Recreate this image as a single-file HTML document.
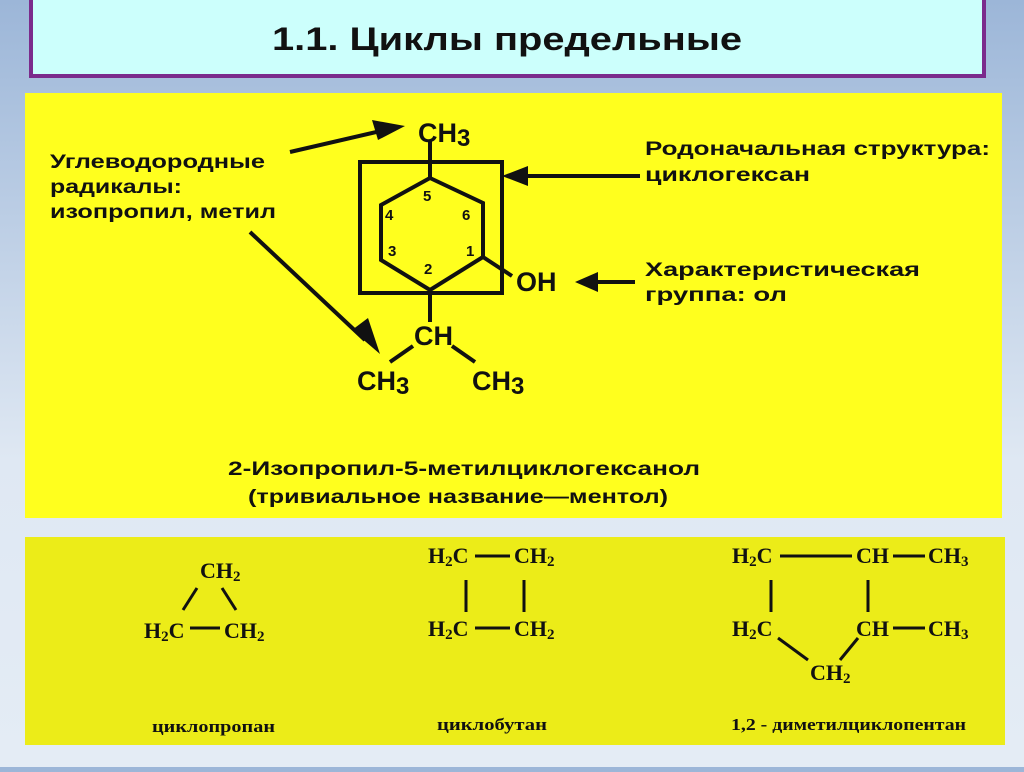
<!DOCTYPE html>
<html><head><meta charset="utf-8"><style>
body{margin:0;width:1024px;height:767px;overflow:hidden;background:linear-gradient(#9cb6d8,#dfe8f3 60%,#e4ecf5);font-family:"Liberation Sans",sans-serif}
</style></head><body>
<svg width="1024" height="767" xmlns="http://www.w3.org/2000/svg">
<rect x="31" y="-4" width="953" height="80" fill="#ccfffc" stroke="#7b2b8c" stroke-width="4"/>
<text x="272" y="50" textLength="470" lengthAdjust="spacingAndGlyphs" font-size="32" font-weight="bold" fill="#111">1.1. Циклы предельные</text>
<rect x="25" y="93" width="977" height="425" fill="#ffff1e"/>
<rect x="25" y="537" width="980" height="208" fill="#ecec18"/>
<g stroke="#111" stroke-width="4" fill="none">
<rect x="360" y="162" width="142" height="131"/>
<polygon points="430,178 483,203 483,257 430,290 381,260 381,205"/>
<line x1="430" y1="178" x2="430" y2="140"/>
<line x1="430" y1="290" x2="430" y2="322"/>
<line x1="483" y1="257" x2="512" y2="276"/>
<line x1="413" y1="346" x2="390" y2="362"/>
<line x1="452" y1="346" x2="475" y2="362"/>
<line x1="290" y1="152" x2="385" y2="130"/>
<line x1="250" y1="232" x2="365" y2="340"/>
<line x1="640" y1="176" x2="520" y2="176"/>
<line x1="635" y1="282" x2="590" y2="282"/>
</g>
<g fill="#111">
<polygon points="405,126 372,120 378,140"/>
<polygon points="380,354 352,330 368,318"/>
<polygon points="502,176 528,166 528,186"/>
<polygon points="575,282 598,272 598,292"/>
</g>
<g font-weight="bold" fill="#111">
<text x="418" y="142" font-size="27">CH<tspan font-size="24" dy="4">3</tspan></text>
<text x="516" y="291" font-size="27">OH</text>
<text x="414" y="345" font-size="27">CH</text>
<text x="357" y="390" font-size="27">CH<tspan font-size="24" dy="4">3</tspan></text>
<text x="472" y="390" font-size="27">CH<tspan font-size="24" dy="4">3</tspan></text>
<g font-size="15"><text x="423" y="201">5</text><text x="385" y="220">4</text><text x="462" y="220">6</text><text x="388" y="256">3</text><text x="466" y="256">1</text><text x="424" y="274">2</text></g>
<g font-size="19" lengthAdjust="spacingAndGlyphs">
<text x="50" y="168" textLength="215" lengthAdjust="spacingAndGlyphs">Углеводородные</text>
<text x="50" y="193" textLength="132" lengthAdjust="spacingAndGlyphs">радикалы:</text>
<text x="50" y="218" textLength="226" lengthAdjust="spacingAndGlyphs">изопропил, метил</text>
<text x="645" y="155" textLength="345" lengthAdjust="spacingAndGlyphs">Родоначальная структура:</text>
<text x="645" y="181" textLength="165" lengthAdjust="spacingAndGlyphs">циклогексан</text>
<text x="645" y="276" textLength="275" lengthAdjust="spacingAndGlyphs">Характеристическая</text>
<text x="645" y="301" textLength="142" lengthAdjust="spacingAndGlyphs">группа: ол</text>
<text x="228" y="475" textLength="472" lengthAdjust="spacingAndGlyphs">2-Изопропил-5-метилциклогексанол</text>
<text x="248" y="503" textLength="420" lengthAdjust="spacingAndGlyphs">(тривиальное название—ментол)</text></g>
</g>
<g font-family="Liberation Serif,serif" font-size="22" font-weight="bold" fill="#111">
<text x="200" y="578">CH<tspan font-size="15" dy="3">2</tspan></text>
<text x="144" y="638">H<tspan font-size="15" dy="3">2</tspan><tspan dy="-3">C</tspan></text>
<text x="224" y="638">CH<tspan font-size="15" dy="3">2</tspan></text>
<text x="428" y="563">H<tspan font-size="15" dy="3">2</tspan><tspan dy="-3">C</tspan></text>
<text x="514" y="563">CH<tspan font-size="15" dy="3">2</tspan></text>
<text x="428" y="636">H<tspan font-size="15" dy="3">2</tspan><tspan dy="-3">C</tspan></text>
<text x="514" y="636">CH<tspan font-size="15" dy="3">2</tspan></text>
<text x="732" y="563">H<tspan font-size="15" dy="3">2</tspan><tspan dy="-3">C</tspan></text>
<text x="856" y="563">CH</text><text x="928" y="563">CH<tspan font-size="15" dy="3">3</tspan></text>
<text x="732" y="636">H<tspan font-size="15" dy="3">2</tspan><tspan dy="-3">C</tspan></text>
<text x="856" y="636">CH</text><text x="928" y="636">CH<tspan font-size="15" dy="3">3</tspan></text>
<text x="810" y="680">CH<tspan font-size="15" dy="3">2</tspan></text>
<g font-size="17"><text x="152" y="732" textLength="123" lengthAdjust="spacingAndGlyphs">циклопропан</text><text x="437" y="730" textLength="110" lengthAdjust="spacingAndGlyphs">циклобутан</text><text x="731" y="730" textLength="235" lengthAdjust="spacingAndGlyphs">1,2 - диметилциклопентан</text></g>
</g>
<g stroke="#111" stroke-width="3">
<line x1="197" y1="588" x2="183" y2="610"/><line x1="222" y1="588" x2="236" y2="610"/>
<line x1="190" y1="628" x2="220" y2="628"/>
<line x1="475" y1="556" x2="510" y2="556"/><line x1="475" y1="628" x2="510" y2="628"/>
<line x1="466" y1="580" x2="466" y2="612"/><line x1="524" y1="580" x2="524" y2="612"/>
<line x1="780" y1="556" x2="852" y2="556"/><line x1="893" y1="556" x2="925" y2="556"/><line x1="893" y1="628" x2="925" y2="628"/>
<line x1="771" y1="580" x2="771" y2="612"/><line x1="868" y1="580" x2="868" y2="612"/>
<line x1="778" y1="638" x2="808" y2="660"/><line x1="858" y1="638" x2="840" y2="660"/>
</g>
</svg>
</body></html>
